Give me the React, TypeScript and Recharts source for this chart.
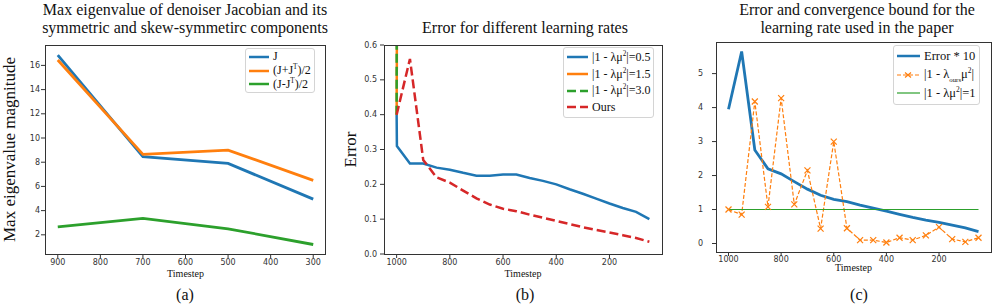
import React from "react";
import { Legend, Line, LineChart, XAxis, YAxis } from "recharts";

const SERIF = "Liberation Serif";
const SANS = "DejaVu Sans";

const BLUE = "#1f77b4";
const ORANGE = "#ff7f0e";
const GREEN = "#2ca02c";
const RED = "#d62728";
const FRAME = "#333333";

// (a) eigenvalues
const timestepsA = [900, 700, 500, 300];
const jacobianMax = [16.85, 8.45, 7.9, 4.95];
const symmetricMax = [16.45, 8.65, 9.0, 6.5];
const skewMax = [2.65, 3.35, 2.5, 1.2];
const xTicksA = [900, 800, 700, 600, 500, 400, 300];
const yTicksA = [2, 4, 6, 8, 10, 12, 14, 16];

// (b) error for learning rates
const timestepsB = [1000, 950, 900, 850, 800, 750, 700, 650, 600, 550, 500, 450, 400, 350, 300, 250, 200, 150, 100, 50];
const timestepsLr05 = [1000, 999, 950, 900, 850, 800, 750, 700, 650, 600, 550, 500, 450, 400, 350, 300, 250, 200, 150, 100, 50];
const errorLr05 = [0.4, 0.31, 0.26, 0.26, 0.248, 0.242, 0.233, 0.225, 0.225, 0.228, 0.228, 0.218, 0.21, 0.2, 0.186, 0.173, 0.159, 0.145, 0.132, 0.121, 0.1];
const timestepsDiverge = [1000, 950];
const errorLr15 = [0.4, 12];
const errorLr30 = [0.4, 40];
const errorOurs = [0.4, 0.56, 0.27, 0.22, 0.205, 0.182, 0.16, 0.142, 0.13, 0.123, 0.113, 0.104, 0.095, 0.086, 0.077, 0.069, 0.062, 0.054, 0.046, 0.035];
const xTicksB = [1000, 800, 600, 400, 200];
const yTicksB = [0, 0.1, 0.2, 0.3, 0.4, 0.5, 0.6];

// (c) error and bound
const errorTimes10 = [3.95, 5.65, 2.75, 2.2, 2.05, 1.82, 1.6, 1.42, 1.3, 1.23, 1.13, 1.04, 0.95, 0.86, 0.77, 0.69, 0.62, 0.54, 0.46, 0.35];
const boundOurs = [1.0, 0.85, 4.18, 1.08, 4.28, 1.15, 2.15, 0.44, 3.0, 0.45, 0.1, 0.1, 0.03, 0.17, 0.1, 0.24, 0.48, 0.13, 0.05, 0.17];
const timestepsBoundOne = [1000, 50];
const boundOne = [1, 1];
const yTicksC = [0, 1, 2, 3, 4, 5];

const pts = (xs: number[], ys: number[]) => xs.map((t, i) => ({ t, v: ys[i] }));

type LegendRow = { label: React.ReactNode; color: string; sw: number; dash?: string; marker?: boolean };

function BoxLegend({ rows, rowH, fontSize, lineW }: { rows: LegendRow[]; rowH: number; fontSize: number; lineW: number }) {
  return (
    <div
      style={{
        border: "1px solid #d4d4d4",
        borderRadius: 3,
        background: "rgba(255,255,255,0.85)",
        padding: "1px 3px 1px 2px",
        fontFamily: SERIF,
        fontSize,
        color: "#111",
      }}
    >
      {rows.map((r, i) => (
        <div key={i} style={{ display: "flex", alignItems: "center", height: rowH, whiteSpace: "nowrap" }}>
          <svg width={lineW + 2} height={10} style={{ flex: "none" }}>
            <line x1={1} x2={lineW + 1} y1={5} y2={5} stroke={r.color} strokeWidth={r.sw} strokeDasharray={r.dash} />
            {r.marker && (
              <path
                d={`M${lineW / 2 - 2.5},2.5 L${lineW / 2 + 3.5},7.5 M${lineW / 2 - 2.5},7.5 L${lineW / 2 + 3.5},2.5`}
                stroke={r.color}
                strokeWidth={1.2}
              />
            )}
          </svg>
          <span style={{ marginLeft: 3 }}>{r.label}</span>
        </div>
      ))}
    </div>
  );
}

const sup = (s: string) => <sup style={{ fontSize: "0.6em", lineHeight: 0 }}>{s}</sup>;
const sub = (s: string) => <sub style={{ fontSize: "0.55em", lineHeight: 0 }}>{s}</sub>;

const legendA: LegendRow[] = [
  { label: "J", color: BLUE, sw: 2.5 },
  { label: <>(J+J{sup("T")})/2</>, color: ORANGE, sw: 2.5 },
  { label: <>(J-J{sup("T")})/2</>, color: GREEN, sw: 2.5 },
];
const legendB: LegendRow[] = [
  { label: <>|1 - λμ{sup("2")}|=0.5</>, color: BLUE, sw: 2.5 },
  { label: <>|1 - λμ{sup("2")}|=1.5</>, color: ORANGE, sw: 2.5 },
  { label: <>|1 - λμ{sup("2")}|=3.0</>, color: GREEN, sw: 2.5, dash: "9 4" },
  { label: "Ours", color: RED, sw: 2.5, dash: "9 4" },
];
const legendC: LegendRow[] = [
  { label: "Error * 10", color: BLUE, sw: 2.5 },
  { label: <>|1 - λ{sub("ours")}μ{sup("2")}|</>, color: ORANGE, sw: 1.2, dash: "4 2", marker: true },
  { label: <>|1 - λμ{sup("2")}|=1</>, color: GREEN, sw: 1.2 },
];

const tickText = { fontFamily: SANS, fontSize: 8, fill: "#333" };

// tick mark + label, drawn at the coordinate recharts hands over
function XTick({ x, payload, axisY, gap }: any) {
  return (
    <g>
      <line x1={x} x2={x} y1={axisY} y2={axisY + 4} stroke={FRAME} />
      <text x={x} y={axisY + gap} textAnchor="middle" dominantBaseline="central" style={tickText}>
        {payload.value}
      </text>
    </g>
  );
}

function YTick({ y, payload, axisX, pad, digits }: any) {
  const label = digits != null ? Number(payload.value).toFixed(digits) : String(payload.value);
  return (
    <g>
      <line x1={axisX - 4} x2={axisX} y1={y} y2={y} stroke={FRAME} />
      <text x={axisX - 4 - pad} y={y} textAnchor="end" dominantBaseline="central" style={tickText}>
        {label}
      </text>
    </g>
  );
}

function YLabel({ viewBox, text, x }: any) {
  const cy = viewBox.y + viewBox.height / 2;
  return (
    <text
      x={x}
      y={cy}
      transform={`rotate(-90 ${x} ${cy})`}
      textAnchor="middle"
      dominantBaseline="central"
      style={{ fontFamily: SERIF, fontSize: 17, fill: "#111" }}
    >
      {text}
    </text>
  );
}

const xLabel = { value: "Timestep", position: "insideTop" as const, offset: 16, style: { fontFamily: SERIF, fontSize: 10, fill: "#111" } };

const xMark = (props: any) => {
  const { cx, cy, index } = props;
  if (cx == null || cy == null) return <g key={index} />;
  return (
    <path key={index} d={`M${cx - 3},${cy - 3} L${cx + 3},${cy + 3} M${cx - 3},${cy + 3} L${cx + 3},${cy - 3}`} stroke={ORANGE} strokeWidth={1.2} fill="none" />
  );
};

const abs = (left: number, top: number): React.CSSProperties => ({ position: "absolute", left, top });

// axes box around the plot area set by the chart margins
function PlotBox({ left, top, width, height }: { left: number; top: number; width: number; height: number }) {
  return (
    <div style={{ position: "absolute", left, top, width, height, border: `1px solid ${FRAME}`, boxSizing: "border-box", pointerEvents: "none" }} />
  );
}

function Title({ lines, cx, top }: { lines: string[]; cx: number; top: number }) {
  return (
    <div style={{ position: "absolute", left: cx - 170, width: 340, top, textAlign: "center", fontFamily: SERIF, fontSize: 16, lineHeight: "18px", color: "#111", whiteSpace: "nowrap" }}>
      {lines.map((l, i) => (
        <div key={i}>{l}</div>
      ))}
    </div>
  );
}

function Caption({ text, cx }: { text: string; cx: number }) {
  return (
    <div style={{ position: "absolute", left: cx - 20, width: 40, top: 285, textAlign: "center", fontFamily: SERIF, fontSize: 16, lineHeight: "20px", color: "#111" }}>
      {text}
    </div>
  );
}

export default function App() {
  return (
    <div style={{ position: "relative", width: 997, height: 304, background: "#fff", overflow: "hidden" }}>
      <style>{"body{margin:0}"}</style>

      <div style={abs(0, 0)}>
        <LineChart width={330} height={304} margin={{ top: 45, right: 4, bottom: 0, left: 0 }}>
          <XAxis dataKey="t" type="number" domain={[270, 930]} reversed ticks={xTicksA} tick={(p: any) => <XTick {...p} axisY={254} gap={8} />} tickLine={false} axisLine={false} height={50} label={xLabel} />
          <YAxis type="number" domain={[0.415, 17.685]} ticks={yTicksA} tick={(p: any) => <YTick {...p} axisX={45} pad={1} />} tickLine={false} axisLine={false} width={45} label={{ content: (p: any) => <YLabel {...p} text="Max eigenvalue magnitude" x={9} /> }} />
          <Line data={pts(timestepsA, jacobianMax)} dataKey="v" stroke={BLUE} strokeWidth={2.8} dot={false} isAnimationActive={false} />
          <Line data={pts(timestepsA, symmetricMax)} dataKey="v" stroke={ORANGE} strokeWidth={2.8} dot={false} isAnimationActive={false} />
          <Line data={pts(timestepsA, skewMax)} dataKey="v" stroke={GREEN} strokeWidth={2.8} dot={false} isAnimationActive={false} />
          <Legend
            layout="vertical"
            align="center"
            verticalAlign="middle"
            wrapperStyle={{ left: 245, top: 48, width: "auto", height: "auto" }}
            content={() => <BoxLegend rows={legendA} rowH={13.7} fontSize={12} lineW={20} />}
          />
        </LineChart>
        <PlotBox left={45} top={45} width={281} height={210} />
      </div>

      <div style={abs(340, 0)}>
        <LineChart width={325} height={304} margin={{ top: 45, right: 3, bottom: 0, left: 0 }}>
          <XAxis dataKey="t" type="number" domain={[2.5, 1047.5]} reversed ticks={xTicksB} tick={(p: any) => <XTick {...p} axisY={254} gap={8} />} tickLine={false} axisLine={false} height={50} label={xLabel} />
          <YAxis type="number" domain={[0, 0.6]} allowDataOverflow ticks={yTicksB} tick={(p: any) => <YTick {...p} axisX={44} pad={3} digits={1} />} tickLine={false} axisLine={false} width={44} label={{ content: (p: any) => <YLabel {...p} text="Error" x={10} /> }} />
          <Line data={pts(timestepsLr05, errorLr05)} dataKey="v" stroke={BLUE} strokeWidth={2.5} dot={false} isAnimationActive={false} />
          <Line data={pts(timestepsDiverge, errorLr15)} dataKey="v" stroke={ORANGE} strokeWidth={2.5} dot={false} isAnimationActive={false} />
          <Line data={pts(timestepsDiverge, errorLr30)} dataKey="v" stroke={GREEN} strokeWidth={2.5} strokeDasharray="9 4" dot={false} isAnimationActive={false} />
          <Line data={pts(timestepsB, errorOurs)} dataKey="v" stroke={RED} strokeWidth={2.5} strokeDasharray="9 4" dot={false} isAnimationActive={false} />
          <Legend
            layout="vertical"
            align="center"
            verticalAlign="middle"
            wrapperStyle={{ left: 223, top: 47, width: "auto", height: "auto" }}
            content={() => <BoxLegend rows={legendB} rowH={16.7} fontSize={12} lineW={21} />}
          />
        </LineChart>
        <PlotBox left={44} top={45} width={279} height={210} />
      </div>

      <div style={abs(672, 0)}>
        <LineChart width={325} height={304} margin={{ top: 42, right: 6, bottom: 0, left: 0 }}>
          <XAxis dataKey="t" type="number" domain={[2.5, 1047.5]} reversed ticks={xTicksB} tick={(p: any) => <XTick {...p} axisY={252} gap={7} />} tickLine={false} axisLine={false} height={52} label={{ ...xLabel, offset: 12 }} />
          <YAxis type="number" domain={[-0.25, 5.93]} ticks={yTicksC} tick={(p: any) => <YTick {...p} axisX={44} pad={9} />} tickLine={false} axisLine={false} width={44} />
          <Line data={pts(timestepsB, errorTimes10)} dataKey="v" stroke={BLUE} strokeWidth={2.8} dot={false} isAnimationActive={false} />
          <Line data={pts(timestepsB, boundOurs)} dataKey="v" stroke={ORANGE} strokeWidth={1.2} strokeDasharray="4 2" dot={xMark} isAnimationActive={false} />
          <Line data={pts(timestepsBoundOne, boundOne)} dataKey="v" stroke={GREEN} strokeWidth={1.2} dot={false} isAnimationActive={false} />
          <Legend
            layout="vertical"
            align="center"
            verticalAlign="middle"
            wrapperStyle={{ left: 221, top: 45, width: "auto", height: "auto" }}
            content={() => <BoxLegend rows={legendC} rowH={18.5} fontSize={12.5} lineW={23} />}
          />
        </LineChart>
        <PlotBox left={44} top={42} width={276} height={211} />
      </div>

      <Title lines={["Max eigenvalue of denoiser Jacobian and its", "symmetric and skew-symmetirc components"]} cx={185} top={1} />
      <Title lines={["Error for different learning rates"]} cx={525} top={19} />
      <Title lines={["Error and convergence bound for the", "learning rate used in the paper"]} cx={857} top={1} />

      <Caption text="(a)" cx={185} />
      <Caption text="(b)" cx={525} />
      <Caption text="(c)" cx={859} />
    </div>
  );
}
